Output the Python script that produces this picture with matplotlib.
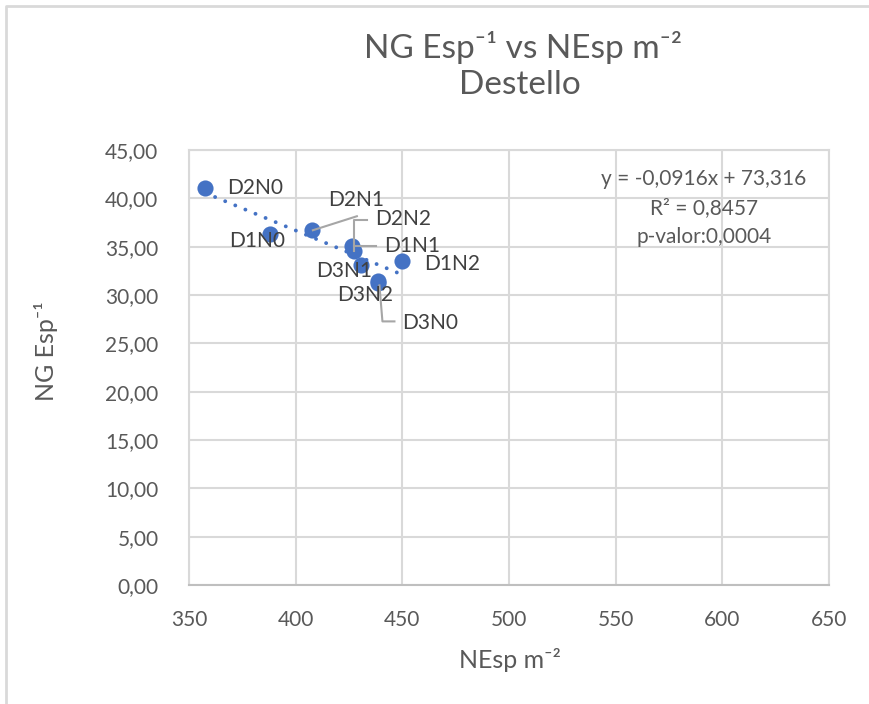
import matplotlib
matplotlib.use("Agg")
import matplotlib.pyplot as plt
from matplotlib.lines import Line2D
from matplotlib.transforms import IdentityTransform

plt.rcParams['font.family'] = ['Lato', 'DejaVu Sans']

# ---- data ----
labels = ["D2N0", "D1N0", "D2N1", "D2N2", "D1N1", "D3N1", "D1N2", "D3N2", "D3N0"]
nesp = [357.5, 388.2, 407.6, 426.3, 427.5, 430.7, 449.9, 438.4, 438.8]
ng_esp = [41.1, 36.3, 36.7, 35.05, 34.6, 33.06, 33.47, 31.46, 31.2]
slope = -0.0916
intercept = 73.316
eq_text = "y = -0,0916x + 73,316"
r2_text = "R² = 0,8457"
p_text = "p-valor:0,0004"
x_ticks = [350, 400, 450, 500, 550, 600, 650]
y_ticks = [0, 5, 10, 15, 20, 25, 30, 35, 40, 45]

W, H = 869, 704
DPI = 100
fig = plt.figure(figsize=(W / DPI, H / DPI), dpi=DPI)
fig.patch.set_facecolor('white')

def fx(px):
    return px / W

def fy(py):
    return 1 - py / H

ax = fig.add_axes([fx(189), fy(585), fx(829) - fx(189), fy(150) - fy(585)])
ax.set_xlim(350, 650)
ax.set_ylim(0, 45)
ax.set_xticks(x_ticks)
ax.set_yticks(y_ticks)
ax.set_xticklabels([str(v) for v in x_ticks])
ax.set_yticklabels([f"{v:.2f}".replace('.', ',') for v in y_ticks])
grid_c = '#D9D9D9'
ax.grid(True, color=grid_c, linewidth=1.5, zorder=0)
for s in ['top', 'right', 'left']:
    ax.spines[s].set_color(grid_c)
    ax.spines[s].set_linewidth(1.5)
ax.spines['bottom'].set_color('#BFBFBF')
ax.spines['bottom'].set_linewidth(1.5)
ax.tick_params(axis='both', length=0, labelsize=15, labelcolor='#595959')
ax.tick_params(axis='x', pad=18)
ax.tick_params(axis='y', pad=22)
ax.set_axisbelow(True)

blue = '#4472C4'
# trendline
xmin, xmax = min(nesp), max(nesp)
ax.plot([xmin, xmax], [slope * xmin + intercept, slope * xmax + intercept],
        color=blue, linewidth=2.8, linestyle=(0, (0.01, 2.8)),
        dash_capstyle='round', zorder=2)
ax.scatter(nesp, ng_esp, s=135, color=blue, zorder=3, linewidths=0)

fig.canvas.draw()

# label offsets in pixels (dx, dy with y down)
label_off = {
    "D2N0": (50, 0), "D1N0": (-13, 7), "D2N1": (44, -30), "D2N2": (51, -27),
    "D1N1": (58, -5), "D3N1": (-17, 6), "D1N2": (50, 3), "D3N2": (-12, 14),
    "D3N0": (52, 40),
}
leaders = {
    "D2N1": [(1, 0), (45, -14)],
    "D2N2": [(2.5, 4.5), (2.5, -26.5), (15.5, -26.5)],
    "D1N1": [(0, -5), (22, -5)],
    "D3N0": [(1, 2), (4, 38), (16, 38)],
}
lab_c = '#404040'
for name, x, y in zip(labels, nesp, ng_esp):
    px, py = ax.transData.transform((x, y))
    dx, dy = label_off[name]
    fig.text((px + dx) / W, (py - dy) / H, name, ha='center', va='center',
             fontsize=15, color=lab_c)
    if name in leaders:
        pts = leaders[name]
        xs = [px + a for a, b in pts]
        ys = [py - b for a, b in pts]
        fig.add_artist(Line2D(xs, ys, transform=IdentityTransform(),
                              color='#A6A6A6', linewidth=1.5, zorder=2.5))

# equation text
fig.text(fx(704), fy(179), eq_text, ha='center', va='center', fontsize=15, color='#595959')
fig.text(fx(704), fy(208), r2_text, ha='center', va='center', fontsize=15, color='#595959')
fig.text(fx(704), fy(237), p_text, ha='center', va='center', fontsize=15, color='#595959')

# titles
fig.text(fx(523), fy(48), "NG Esp⁻¹ vs NEsp m⁻²", ha='center', va='center',
         fontsize=24, color='#595959')
fig.text(fx(520), fy(85), "Destello", ha='center', va='center',
         fontsize=24, color='#595959')
fig.text(fx(510), fy(660), "NEsp m⁻²", ha='center', va='center',
         fontsize=18, color='#595959')
fig.text(fx(46), fy(351), "NG Esp⁻¹", ha='center', va='center', rotation=90,
         fontsize=18, color='#595959')

# chart frame (top and left visible)
fig.add_artist(Line2D([fx(6), fx(6), 1.0], [0.0, fy(6), fy(6)], transform=fig.transFigure,
                      color='#D9D9D9', linewidth=2))

fig.savefig('out.png', dpi=DPI)
